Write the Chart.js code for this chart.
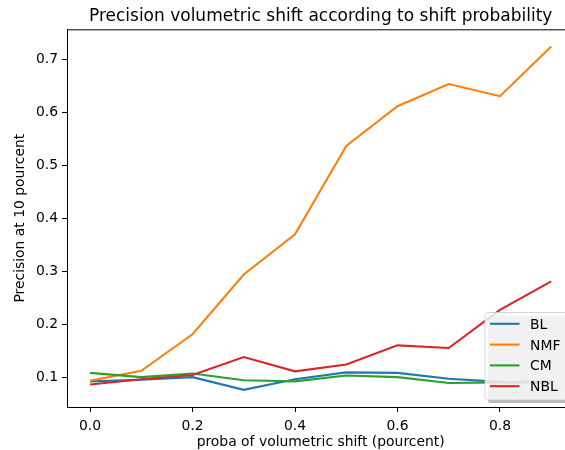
<!DOCTYPE html>
<html>
<head>
<meta charset="utf-8">
<script src="https://cdn.jsdelivr.net/npm/chart.js@4"></script>
<style>
  html, body { margin: 0; padding: 0; background: #fff; overflow: hidden; width: 565px; height: 450px; }
  #wrap { width: 565px; height: 450px; overflow: hidden; position: relative; }
  #shiftChart { position: absolute; left: 0; top: 0; }
</style>
</head>
<body>
<div id="wrap"><canvas id="shiftChart" width="620" height="450"></canvas></div>
<script>
// shift probability (x) and precision@10 per method
const probas = [0.0, 0.1, 0.2, 0.3, 0.4, 0.5, 0.6, 0.7, 0.8, 0.9];
const blVals  = [0.092, 0.095, 0.100, 0.076, 0.096, 0.109, 0.108, 0.097, 0.091, 0.089];
const nmfVals = [0.093, 0.112, 0.181, 0.294, 0.370, 0.537, 0.612, 0.654, 0.631, 0.725];
const cmVals  = [0.108, 0.100, 0.107, 0.094, 0.092, 0.103, 0.100, 0.089, 0.090, 0.092];
const nblVals = [0.086, 0.096, 0.104, 0.138, 0.111, 0.124, 0.160, 0.155, 0.227, 0.281];

const seriesNames = ['BL', 'NMF', 'CM', 'NBL'];
const xTicks = [0.0, 0.2, 0.4, 0.6, 0.8];
const yTicks = [0.1, 0.2, 0.3, 0.4, 0.5, 0.6, 0.7];

const titleText = 'Precision volumetric shift according to shift probability';
const FONT = 'DejaVu Sans';
const colors = ['#1f77b4', '#ff7f0e', '#2ca02c', '#d62728'];

// 5% margins around the data, like matplotlib's autoscale
const allVals = [...blVals, ...nmfVals, ...cmVals, ...nblVals];
const yLo = Math.min(...allVals), yHi = Math.max(...allVals);
const yPad = (yHi - yLo) * 0.05;
const xPad = (probas[probas.length - 1] - probas[0]) * 0.05;

const toPoints = vals => vals.map((v, i) => ({ x: probas[i], y: v }));

const frameAndTitle = {
  id: 'frameAndTitle',
  afterDatasetsDraw(chart) {
    const { ctx } = chart;
    // legend box, lower right, with drop shadow
    const bx = 485, by = 312.5, bw = 82, bh = 87.5, r = 3;
    ctx.save();
    ctx.beginPath();
    ctx.roundRect(bx + 3, by + 3, bw, bh, r);
    ctx.fillStyle = 'rgba(77,77,77,0.4)';
    ctx.fill();
    ctx.beginPath();
    ctx.roundRect(bx, by, bw, bh, r);
    ctx.fillStyle = 'rgba(255,255,255,0.8)';
    ctx.fill();
    ctx.strokeStyle = 'rgba(204,204,204,0.8)';
    ctx.lineWidth = 1;
    ctx.stroke();
    ctx.font = `13.9px "${FONT}"`;
    ctx.textBaseline = 'alphabetic';
    ctx.textAlign = 'left';
    seriesNames.forEach((name, i) => {
      const yy = 323.8 + i * 20.8;
      ctx.strokeStyle = colors[i];
      ctx.lineWidth = 2.1;
      ctx.beginPath();
      ctx.moveTo(490, yy);
      ctx.lineTo(519.5, yy);
      ctx.stroke();
      ctx.fillStyle = '#000';
      ctx.fillText(name, 530, yy + 5);
    });
    ctx.restore();
  },
  afterDraw(chart) {
    const { ctx, chartArea: a } = chart;
    ctx.save();
    // top spine
    ctx.strokeStyle = '#000';
    ctx.lineWidth = 1;
    ctx.beginPath();
    ctx.moveTo(a.left, a.top + 0.5);
    ctx.lineTo(a.right, a.top + 0.5);
    ctx.stroke();
    ctx.fillStyle = '#000';
    ctx.font = `17px "${FONT}"`;
    ctx.textAlign = 'center';
    ctx.textBaseline = 'alphabetic';
    ctx.fillText(titleText, (a.left + a.right) / 2, 20.5);
    ctx.restore();
  }
};

new Chart(document.getElementById('shiftChart'), {
  type: 'line',
  data: {
    datasets: [blVals, nmfVals, cmVals, nblVals].map((vals, i) => ({
      label: seriesNames[i],
      data: toPoints(vals),
      borderColor: colors[i],
      backgroundColor: colors[i],
      borderWidth: 2.1,
      pointRadius: 0,
      tension: 0,
      fill: false,
      order: 4 - i
    }))
  },
  options: {
    responsive: false,
    animation: false,
    events: [],
    layout: { padding: { left: 0, top: 29.3, right: 45.7, bottom: 0 } },
    plugins: { legend: { display: false }, tooltip: { enabled: false }, title: { display: false } },
    scales: {
      x: {
        type: 'linear',
        min: probas[0] - xPad,
        max: probas[probas.length - 1] + xPad,
        afterBuildTicks: s => { s.ticks = xTicks.map(v => ({ value: v })); },
        afterFit: s => { s.height = 43; },
        ticks: {
          autoSkip: false, maxRotation: 0, padding: 6,
          color: '#000', font: { family: FONT, size: 13.9 },
          callback: v => v.toFixed(1)
        },
        grid: { drawOnChartArea: false, drawTicks: true, tickLength: 5, tickColor: '#000', tickWidth: 1 },
        border: { display: true, color: '#000', width: 1 },
        title: {
          display: true, text: 'proba of volumetric shift (pourcent)',
          color: '#000', font: { family: FONT, size: 13.9 },
          padding: { top: 0, bottom: -0.5 }
        }
      },
      y: {
        type: 'linear',
        min: yLo - yPad,
        max: yHi + yPad,
        afterBuildTicks: s => { s.ticks = yTicks.map(v => ({ value: v })); },
        afterFit: s => { s.width = 67; },
        ticks: {
          autoSkip: false, padding: 4,
          color: '#000', font: { family: FONT, size: 13.9 },
          callback: v => v.toFixed(1)
        },
        grid: { drawOnChartArea: false, drawTicks: true, tickLength: 5, tickColor: '#000', tickWidth: 1 },
        border: { display: true, color: '#000', width: 1 },
        title: {
          display: true, text: 'Precision at 10 pourcent',
          color: '#000', font: { family: FONT, size: 13.9 },
          padding: { top: 12.5, bottom: 0 }
        }
      }
    }
  },
  plugins: [frameAndTitle]
});
</script>
</body>
</html>
